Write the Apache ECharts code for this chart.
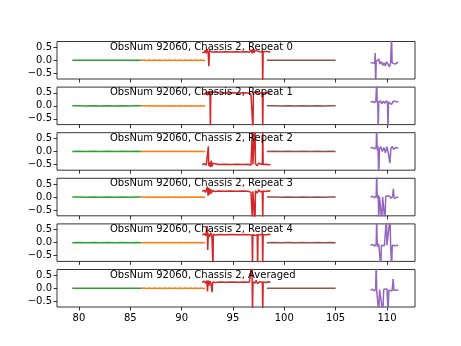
<!DOCTYPE html>
<html><head><meta charset="utf-8">
<script src="https://cdn.jsdelivr.net/npm/echarts@6/dist/echarts.min.js"></script>
<style>html,body{margin:0;padding:0;background:#fff}#c{width:461px;height:346px}</style>
</head><body><div id="c"></div>
<script>
const panelTitles = ["ObsNum 92060, Chassis 2, Repeat 0","ObsNum 92060, Chassis 2, Repeat 1","ObsNum 92060, Chassis 2, Repeat 2","ObsNum 92060, Chassis 2, Repeat 3","ObsNum 92060, Chassis 2, Repeat 4","ObsNum 92060, Chassis 2, Averaged"];
const xTicks = [80,85,90,95,100,105,110];
const yTicks = [-0.5,0,0.5];

const greenData = [[79.35,0],[80.0,0.004],[80.7,-0.004],[81.4,0.003],[82.1,-0.003],[82.8,0.004],[83.5,-0.004],[84.2,0.003],[84.9,-0.003],[85.6,0.004],[86.1,0]];
const orangeData = [[86.1,0],[86.35,0.006],[86.6,-0.005],[86.85,0.006],[87.1,-0.006],[87.35,0.005],[87.6,-0.006],[87.85,0.006],[88.1,-0.005],[88.35,0.006],[88.6,-0.006],[88.85,0.005],[89.1,-0.006],[89.35,0.006],[89.6,-0.005],[89.85,0.006],[90.1,-0.006],[90.35,0.005],[90.6,-0.006],[90.85,0.006],[91.1,-0.005],[91.35,0.006],[91.6,-0.006],[91.85,0.005],[92.1,-0.006],[92.3,0]];
const brownData = [[98.3,0],[99.0,0.004],[99.7,-0.004],[100.4,0.003],[101.1,-0.003],[101.8,0.004],[102.5,-0.004],[103.2,0.003],[103.9,-0.003],[104.5,0.004],[105.0,0]];

const red0 = [[92.0,0.3],[92.1,0.36],[92.2,0.3],[92.3,0.38],[92.4,0.27],[92.5,0.43],[92.58,0.3],[92.65,-0.23],[92.72,0.37],[92.8,0.3],[92.9,0.35],[93.0,0.31],[93.3,0.33],[93.8,0.32],[94.3,0.33],[94.8,0.32],[95.3,0.33],[95.8,0.32],[96.3,0.33],[96.6,0.31],[96.75,0.4],[96.85,0.27],[96.95,0.42],[97.05,0.28],[97.15,0.38],[97.3,0.31],[97.6,0.33],[97.86,0.32],[97.9,-0.95],[97.94,0.33],[98.1,0.31],[98.3,0.34],[98.5,0.32],[98.65,0.33]];
const red1 = [[92.0,0.47],[92.15,0.52],[92.3,0.45],[92.45,0.55],[92.55,0.4],[92.65,0.56],[92.76,0.48],[92.8,-0.95],[92.84,0.5],[92.95,0.44],[93.05,0.53],[93.2,0.48],[93.6,0.5],[94.2,0.49],[94.8,0.5],[95.4,0.49],[96.0,0.5],[96.5,0.49],[96.75,0.46],[96.91,0.5],[96.95,-0.95],[96.99,0.52],[97.15,0.45],[97.3,0.53],[97.5,0.48],[97.86,0.5],[97.9,-0.95],[97.94,0.49],[98.2,0.5],[98.45,0.48],[98.65,0.49]];
const red2 = [[92.0,-0.5],[92.2,-0.47],[92.4,-0.53],[92.56,-0.48],[92.6,0.2],[92.64,-0.55],[92.72,-0.42],[92.8,-0.6],[92.88,-0.35],[92.95,-0.58],[93.05,-0.45],[93.2,-0.52],[93.6,-0.5],[94.2,-0.49],[94.8,-0.5],[95.4,-0.49],[96.0,-0.5],[96.5,-0.49],[96.75,-0.53],[96.86,-0.48],[96.9,0.95],[96.94,-0.5],[97.11,-0.52],[97.15,0.95],[97.19,-0.47],[97.35,-0.55],[97.5,-0.45],[97.65,-0.52],[97.86,-0.5],[97.9,0.95],[97.94,-0.5],[98.2,-0.49],[98.45,-0.51],[98.65,-0.5]];
const red3 = [[92.0,0.22],[92.2,0.26],[92.35,0.18],[92.5,0.4],[92.58,0.05],[92.66,0.35],[92.74,0.1],[92.82,0.3],[92.9,0.15],[93.0,0.25],[93.2,0.21],[93.6,0.23],[94.2,0.22],[94.8,0.23],[95.4,0.22],[96.0,0.23],[96.5,0.22],[96.75,0.18],[96.86,0.25],[96.9,-0.95],[96.94,0.22],[97.11,0.2],[97.15,-0.95],[97.19,0.24],[97.35,0.15],[97.5,0.28],[97.65,0.2],[97.86,0.22],[97.9,-0.95],[97.94,0.23],[98.2,0.21],[98.45,0.24],[98.65,0.22]];
const red4 = [[92.0,0.3],[92.2,0.34],[92.35,0.26],[92.46,0.33],[92.5,0.64],[92.54,-0.28],[92.6,0.35],[92.72,0.22],[92.85,0.38],[92.95,0.25],[93.01,0.3],[93.05,-0.95],[93.09,0.32],[93.3,0.29],[93.7,0.31],[94.3,0.3],[94.9,0.31],[95.5,0.3],[96.1,0.31],[96.6,0.3],[96.86,0.28],[96.9,-0.95],[96.94,0.32],[97.15,0.27],[97.36,0.31],[97.4,-0.95],[97.44,0.3],[97.6,0.33],[97.86,0.3],[97.9,-0.95],[97.94,0.31],[98.2,0.29],[98.45,0.32],[98.65,0.3]];
const red5 = [[92.0,0.23],[92.2,0.27],[92.35,0.19],[92.45,0.3],[92.52,-0.12],[92.58,0.3],[92.66,0.1],[92.75,0.28],[92.85,0.18],[92.93,0.25],[92.97,-0.15],[93.02,0.24],[93.3,0.22],[93.7,0.24],[94.3,0.23],[94.9,0.24],[95.5,0.23],[96.1,0.24],[96.6,0.23],[96.85,0.95],[96.9,-0.95],[96.95,0.24],[97.15,0.2],[97.25,0.3],[97.4,0.18],[97.6,0.25],[97.86,0.23],[97.9,-0.95],[97.94,0.24],[98.2,0.22],[98.45,0.25],[98.65,0.23]];

const purple0 = [[108.4,-0.1],[108.6,-0.1],[108.8,-0.13],[108.85,0.28],[108.9,-0.95],[108.95,-0.05],[109.1,-0.12],[109.2,0.05],[109.3,-0.15],[109.45,-0.05],[109.6,-0.2],[109.7,-0.1],[109.85,-0.22],[109.95,-0.05],[110.1,-0.15],[110.25,-0.25],[110.35,-0.1],[110.45,0.95],[110.5,-0.1],[110.65,-0.05],[110.8,-0.15],[111.0,-0.08],[111.1,-0.1]];
const purple1 = [[108.4,0.15],[108.6,0.17],[108.8,0.12],[108.92,0.2],[109.0,0.95],[109.05,0.1],[109.1,0.2],[109.15,-0.95],[109.2,0.12],[109.35,0.2],[109.5,0.08],[109.65,0.18],[109.8,0.1],[109.95,0.2],[110.05,0.12],[110.1,-0.95],[110.15,0.15],[110.3,0.22],[110.45,0.05],[110.6,0.18],[110.75,0.12],[110.9,0.17],[111.1,0.15]];
const purple2 = [[108.4,0.13],[108.6,0.15],[108.8,0.1],[108.95,0.18],[109.0,0.95],[109.05,0.05],[109.12,0.2],[109.2,-0.95],[109.27,0.1],[109.4,0.18],[109.55,0.0],[109.7,0.15],[109.85,-0.05],[110.0,0.18],[110.15,-0.1],[110.28,-0.45],[110.38,0.1],[110.5,0.2],[110.65,0.08],[110.85,0.15],[111.1,0.13]];
const purple3 = [[108.4,0.0],[108.6,0.03],[108.8,-0.03],[108.95,0.05],[109.0,0.95],[109.05,-0.05],[109.15,0.08],[109.2,-0.95],[109.27,0.02],[109.4,0.06],[109.5,-0.95],[109.58,0.0],[109.7,0.05],[109.8,-0.95],[109.88,0.03],[110.05,-0.04],[110.2,0.05],[110.4,-0.05],[110.55,0.03],[110.62,0.32],[110.7,-0.05],[110.85,0.02],[111.1,0.0]];
const purple4 = [[108.4,-0.1],[108.6,-0.07],[108.8,-0.13],[108.95,-0.05],[109.0,0.95],[109.05,-0.15],[109.2,-0.05],[109.35,-0.12],[109.4,-0.95],[109.46,-0.1],[109.6,-0.05],[109.75,-0.12],[109.9,-0.08],[109.95,0.95],[110.0,-0.1],[110.15,-0.05],[110.3,0.95],[110.36,-0.15],[110.45,-0.95],[110.52,-0.1],[110.65,-0.05],[110.8,-0.12],[111.1,-0.1]];
const purple5 = [[108.4,-0.07],[108.6,-0.04],[108.8,-0.1],[108.9,-0.02],[108.95,0.95],[109.0,-0.1],[109.12,-0.03],[109.2,-0.95],[109.28,-0.05],[109.45,-0.12],[109.6,-0.95],[109.68,-0.04],[109.85,-0.1],[110.0,-0.03],[110.1,-0.95],[110.18,-0.08],[110.35,-0.02],[110.5,-0.1],[110.6,0.35],[110.68,-0.08],[110.85,-0.04],[111.1,-0.07]];

const redPanels = [red0, red1, red2, red3, red4, red5];
const purplePanels = [purple0, purple1, purple2, purple3, purple4, purple5];

const FONT = 'DejaVu Sans';
const colors = {green:'#2ca02c', orange:'#ff7f0e', red:'#d62728', brown:'#8c564b', purple:'#9467bd'};
const gridLeft = 57, gridWidth = 358, top0 = 41.5, step = 45.6, gh = 37.5;
const fmtY = v => (v < 0 ? '\u2212' : '') + Math.abs(v).toFixed(1);

const grids = [], xAxes = [], yAxes = [], series = [], graphics = [];
for (let k = 0; k < 6; k++) {
  const top = top0 + step * k;
  grids.push({left: gridLeft, top: top, width: gridWidth, height: gh, show: true, borderColor: '#000', borderWidth: 0.8, backgroundColor: 'transparent'});
  xAxes.push({type: 'value', gridIndex: k, min: 77.86, max: 112.73, position: 'bottom',
    axisLine: {show: false, onZero: false}, splitLine: {show: false},
    axisTick: {show: true, length: 3.5, lineStyle: {color: '#000', width: 0.8}, customValues: xTicks},
    axisLabel: {show: k === 5, customValues: xTicks, color: '#000', fontFamily: FONT, fontSize: 10, margin: 6}});
  yAxes.push({type: 'value', gridIndex: k, min: -0.72, max: 0.72, position: 'left',
    axisLine: {show: false, onZero: false}, splitLine: {show: false},
    axisTick: {show: true, length: 3.5, lineStyle: {color: '#000', width: 0.8}, customValues: yTicks},
    axisLabel: {show: true, customValues: yTicks, formatter: fmtY, color: '#000', fontFamily: FONT, fontSize: 10, margin: 5}});
  const mk = (data, color) => ({type: 'line', xAxisIndex: k, yAxisIndex: k, data: data, showSymbol: false, symbol: 'none', clip: true,
    lineStyle: {color: color, width: 1.5}, itemStyle: {color: color}, animation: false});
  series.push(mk(greenData, colors.green));
  series.push(mk(orangeData, colors.orange));
  series.push(mk(redPanels[k], colors.red));
  series.push(mk(brownData, colors.brown));
  series.push(mk(purplePanels[k], colors.purple));
  graphics.push({type: 'text', left: 110, top: top + 0.5, z: 100,
    style: {text: panelTitles[k], fill: '#000', font: '10px "DejaVu Sans"'}});
}

const chart = echarts.init(document.getElementById('c'), null, {renderer: 'canvas'});
chart.setOption({animation: false, backgroundColor: '#fff', grid: grids, xAxis: xAxes, yAxis: yAxes, series: series, graphic: graphics});
</script></body></html>
